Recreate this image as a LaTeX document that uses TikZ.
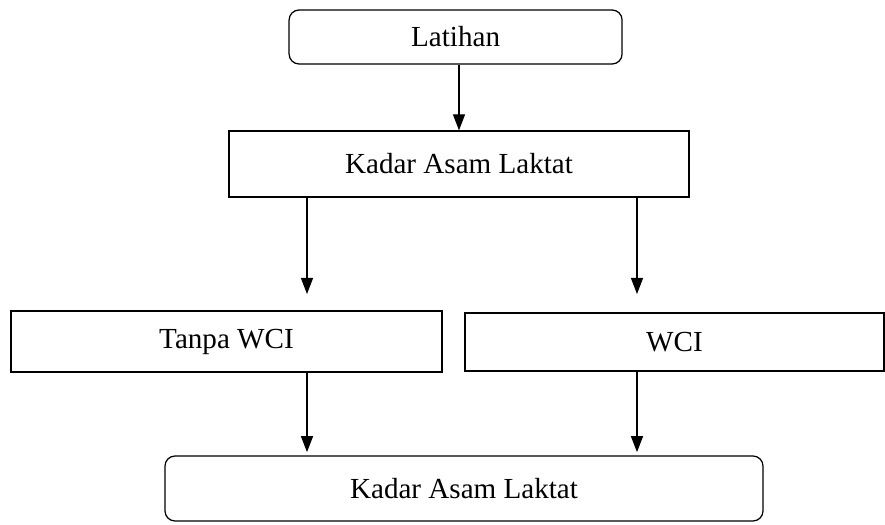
\documentclass[tikz,border=0pt]{standalone}
\usepackage{fontspec}
\setmainfont{Liberation Serif}
\usepackage{tikz}
\usetikzlibrary{arrows.meta,calc}
\tikzstyle{blk}=[draw=black,line width=0.9pt,inner sep=0pt,
font=\fontsize{20.7}{24}\selectfont]
\tikzstyle{rblk}=[blk,rounded corners=0.25cm]
\tikzstyle{dgraph}=[-{Triangle[length=0.4cm,width=0.3cm]}, line width=0.9pt]

\begin{document}
\begin{tikzpicture}
\useasboundingbox (0,0) rectangle (22.125,13.125);
\node[rblk, minimum width=8.325cm, minimum height=1.35cm] (latihan) at (11.39,12.2) {Latihan};
\node[blk, minimum width=11.5cm, minimum height=1.65cm] (kadar) at (11.475,9.025) {Kadar Asam Laktat};
\node[blk, minimum width=10.775cm, minimum height=1.525cm] (tanpa) at (5.6625,4.5875) {Tanpa WCI};
\node[blk, minimum width=10.475cm, minimum height=1.45cm] (wci) at (16.8625,4.575) {WCI};
\node[rblk, minimum width=14.95cm, minimum height=1.625cm] (hasil) at (11.6,0.9125) {Kadar Asam Laktat};
\coordinate (tl) at (7.675,5.775);
\coordinate (tr) at (15.925,5.775);
\draw [dgraph] (latihan.south -| kadar.north) -- (kadar.north);
\draw [dgraph] (kadar.south -| tl) -- (tl);
\draw [dgraph] (kadar.south -| tr) -- (tr);
\draw [dgraph] (tanpa.south -| tl) -- ($(hasil.north -| tl)+(0,0.08)$);
\draw [dgraph] (wci.south -| tr) -- ($(hasil.north -| tr)+(0,0.08)$);
\end{tikzpicture}
\end{document}
